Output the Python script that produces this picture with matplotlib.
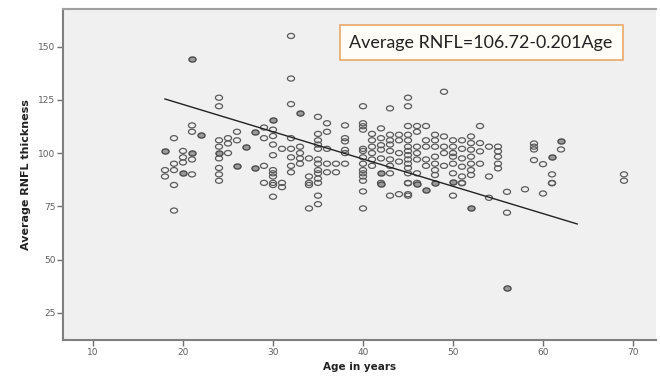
import matplotlib
matplotlib.use("Agg")
import matplotlib.pyplot as plt
from matplotlib.path import Path
from matplotlib.transforms import Affine2D
from collections import Counter

# ---- data ----
rnfl_by_age = {
    18: [101, 101, 92, 89],
    19: [107, 95, 92, 85, 73],
    20: [101, 98, 95.6, 90.5, 90.5],
    21: [144, 144, 113, 110, 100, 100, 97, 90],
    22: [108.5, 108.5],
    24: [126, 122, 106, 103, 100, 100, 97.5, 93, 90, 87],
    25: [107, 104.5, 100],
    26: [110, 106, 94, 94],
    27: [103, 103],
    28: [110, 110, 93, 93],
    29: [112, 107, 94, 86],
    30: [115.5, 115.5, 111, 108, 104, 99, 92, 90.5, 89, 86, 85, 79.5],
    31: [102, 86, 84],
    32: [155, 135, 123, 107, 102, 98, 94, 91],
    33: [118.6, 118.6, 103, 100, 97.5, 95],
    34: [97.5, 89, 86, 85, 74],
    35: [117, 109, 106, 104, 102, 97, 95, 92, 90.5, 88, 86, 80, 76],
    36: [114, 110, 102, 95, 91],
    37: [95, 91],
    38: [113, 107, 105.5, 101.5, 100, 95],
    40: [122, 114, 112.6, 111, 102, 101, 98, 95, 92, 90.5, 89, 87, 82, 74],
    41: [109, 106, 103, 100, 97, 94],
    42: [111.6, 107, 103.7, 101.6, 97.5, 90.5, 90.5, 86, 85.4, 85.4],
    43: [121, 108.6, 106, 104, 101, 97, 94, 90.5, 80],
    44: [108.6, 106, 100, 96, 80.7],
    45: [126, 122, 112.7, 108.6, 106, 103, 101, 99, 97, 95, 93, 90.5, 86, 85.8, 80.7, 80],
    46: [112.7, 110, 103, 100, 97, 90.5, 86, 85.4, 85.4],
    47: [112.7, 106, 103, 97, 94, 82.5, 82.5],
    48: [108.6, 106, 103, 98.3, 95, 92, 89.7, 86, 86],
    49: [128.8, 107.8, 103, 100, 94],
    50: [106, 103, 100, 98.3, 95, 90.5, 86.5, 86.5, 80],
    51: [106, 102, 97.5, 93.6, 89, 86, 85.8],
    52: [107.8, 104.7, 101.6, 98.3, 95, 92, 89.7, 74.3, 74.3],
    53: [112.7, 104.7, 100.8, 95],
    54: [103, 89, 79],
    55: [103, 100.8, 98.3, 95, 92.8],
    56: [81.8, 72, 36.5, 36.5],
    58: [83],
    59: [104.5, 103, 101.7, 96.7],
    60: [94.8, 81],
    61: [98.3, 98.3, 90, 86, 85.8],
    62: [105.6, 105.6, 101.7],
    69: [90, 87],
}
fit_age = [18, 63.8]
fit_rnfl = [125.4, 66.7]
x_ticks = [10, 20, 30, 40, 50, 60, 70]
y_ticks = [25, 50, 75, 100, 125, 150]
equation = "Average RNFL=106.72-0.201Age"
x_label = "Age in years"
y_label = "Average RNFL thickness"

pairs = [(a, v) for a, vals in rnfl_by_age.items() for v in vals]
counts = Counter(pairs)
single = [p for p, c in counts.items() if c == 1]
multi = [p for p, c in counts.items() if c > 1]

# slightly wide elliptical marker (as in the reference)
ellipse = Path.unit_circle().transformed(Affine2D().scale(1.0, 0.72))

fig = plt.figure(figsize=(6.6, 3.76), dpi=100)
fig.patch.set_facecolor("white")
ax = fig.add_axes([0.0955, 0.0957, 0.8985, 0.880])
ax.set_facecolor("#f0f0f0")

ax.scatter([p[0] for p in single], [p[1] for p in single], s=26, marker=ellipse,
           facecolors="none", edgecolors="#5a5a5a", linewidths=0.9, zorder=3)
ax.scatter([p[0] for p in multi], [p[1] for p in multi], s=26, marker=ellipse,
           facecolors="#9a9a9a", edgecolors="#4a4a4a", linewidths=1.0, zorder=3)
ax.plot(fit_age, fit_rnfl, color="#222222", lw=1.0, zorder=4)

ax.set_xlim(6.67, 72.56)
ax.set_ylim(12.2, 167.6)
ax.set_xticks(x_ticks)
ax.set_yticks(y_ticks)
ax.tick_params(axis="both", direction="out", length=4, width=1, color="#707070",
               labelsize=6.5, labelcolor="#606060", pad=1.5)

for side in ["left", "bottom"]:
    ax.spines[side].set_color("#808080")
    ax.spines[side].set_linewidth(1.5)
ax.spines["top"].set_color("#a0a0a0")
ax.spines["top"].set_linewidth(1.5)
ax.spines["right"].set_visible(False)

ax.set_xlabel(x_label, fontsize=7.5, fontweight="bold", family="DejaVu Sans",
              labelpad=4, color="#222222")
ax.set_ylabel(y_label, fontsize=8, fontweight="bold", family="Liberation Sans Narrow",
              labelpad=5, color="#222222")

ax.text(0.705, 0.899, equation, transform=ax.transAxes, fontsize=12.9,
        family="Lato", color="#222222", ha="center", va="center", zorder=6,
        bbox=dict(boxstyle="square,pad=0.55", facecolor="#fffdf8",
                  edgecolor="#e8a868", linewidth=1.2))

fig.savefig("out.png", dpi=100)
